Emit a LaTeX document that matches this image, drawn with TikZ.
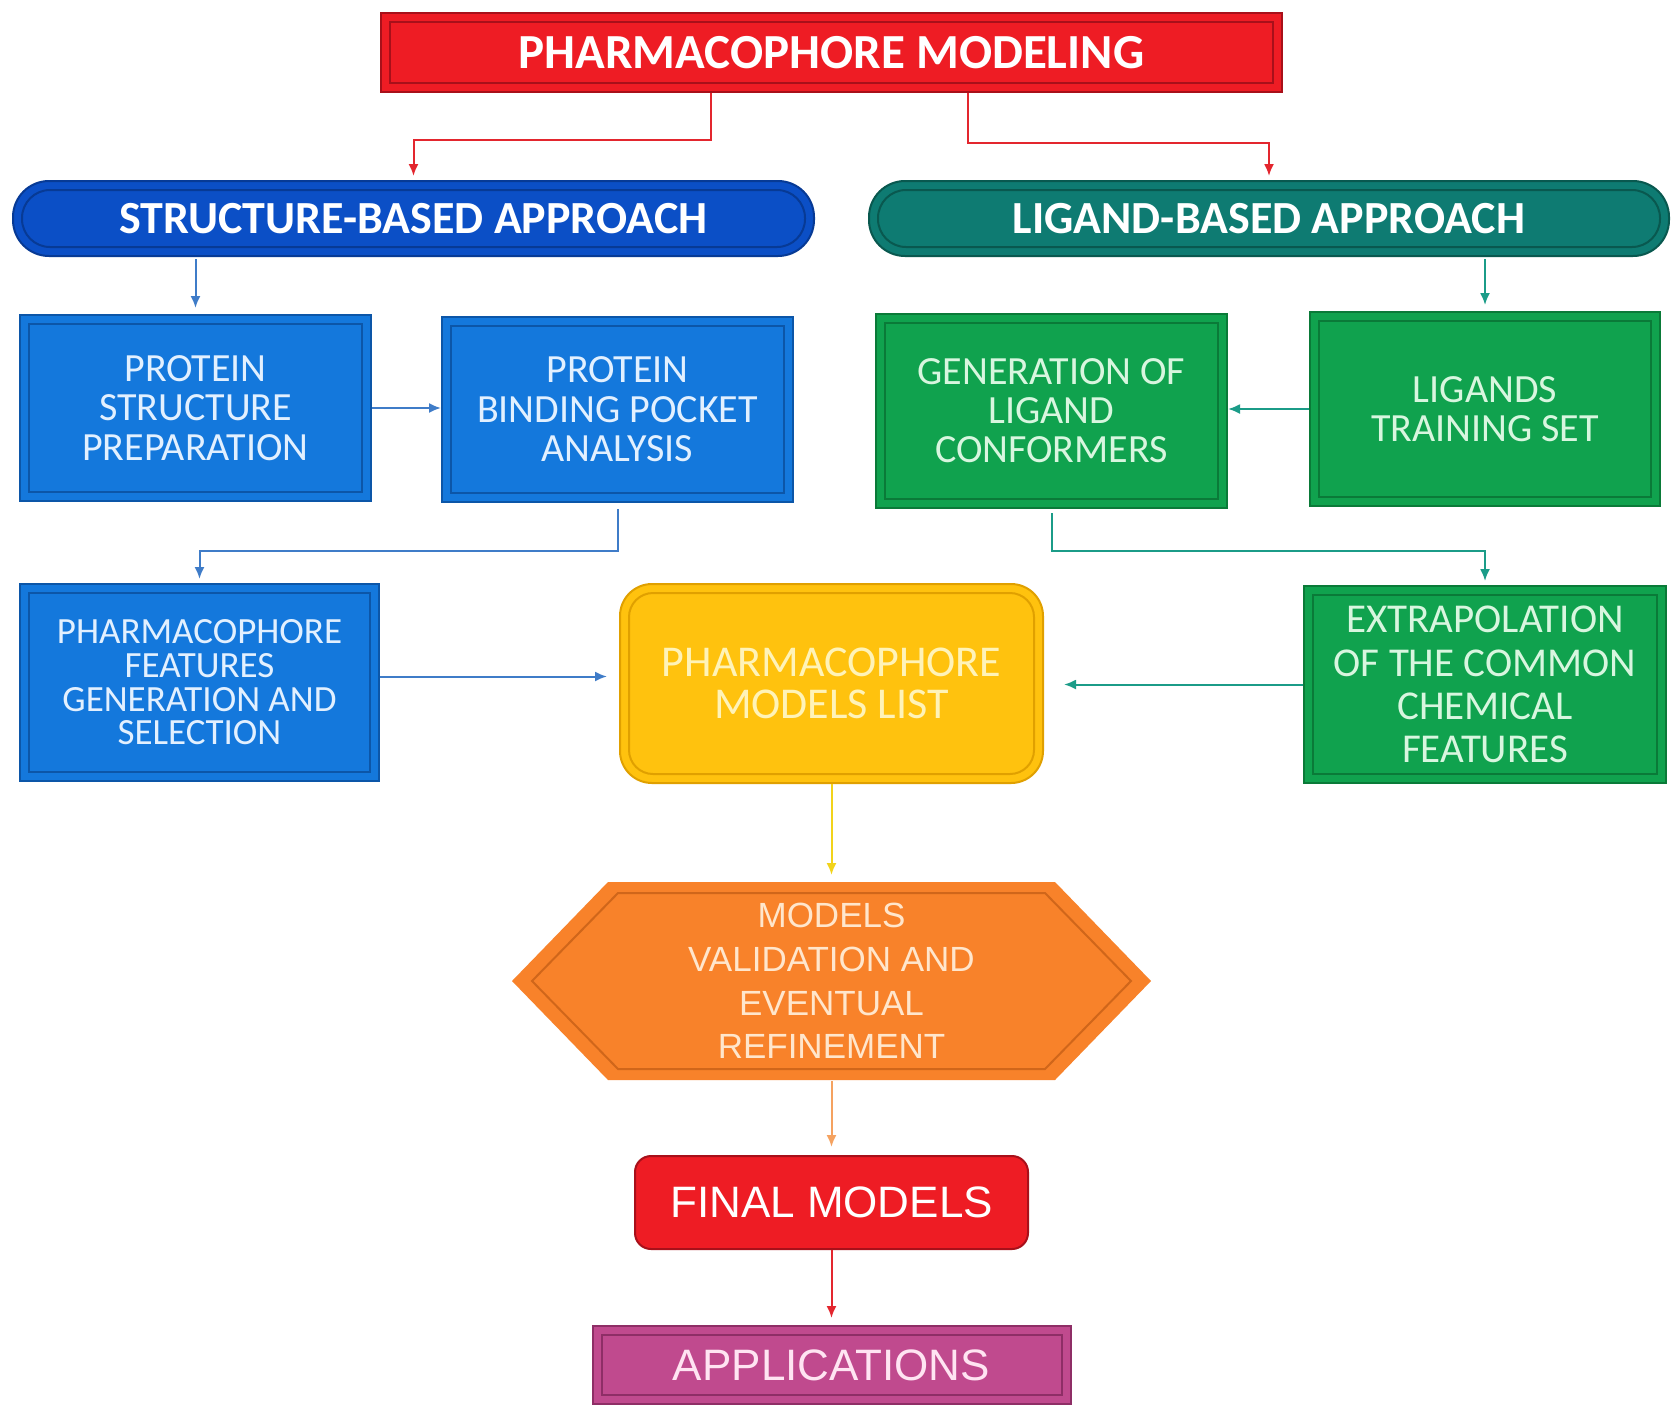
\documentclass[tikz,border=0pt]{standalone}
\usepackage{fontspec}
\setmainfont{Carlito}
\newfontfamily\arialf{Liberation Sans}
\usetikzlibrary{calc,arrows.meta}
\definecolor{redM}{HTML}{EE1C24}
\definecolor{redD}{HTML}{A8101A}
\definecolor{blueP}{HTML}{0B4FC6}
\definecolor{bluePD}{HTML}{073A95}
\definecolor{tealP}{HTML}{0E7B72}
\definecolor{tealPD}{HTML}{09584F}
\definecolor{blueB}{HTML}{1478DC}
\definecolor{blueBD}{HTML}{0C56A8}
\definecolor{greenB}{HTML}{10A24E}
\definecolor{greenBD}{HTML}{0A7A38}
\definecolor{yel}{HTML}{FFC20E}
\definecolor{yelD}{HTML}{E0A000}
\definecolor{orng}{HTML}{F8822A}
\definecolor{orngD}{HTML}{D0661A}
\definecolor{mag}{HTML}{C04A8E}
\definecolor{magD}{HTML}{8E2E66}
\definecolor{arRed}{HTML}{E3262E}
\definecolor{arBlue}{HTML}{3F7CC8}
\definecolor{arTeal}{HTML}{1B9C88}
\definecolor{arYel}{HTML}{F2D31A}
\definecolor{arOr}{HTML}{F5A260}
\definecolor{txtBlue}{HTML}{E2F0FF}
\definecolor{txtGreen}{HTML}{D8F6DF}
\definecolor{txtYel}{HTML}{FFF3B8}
\definecolor{txtOr}{HTML}{FFE6CC}
\definecolor{txtMag}{HTML}{FFE4F2}
\tikzset{
  innerframe/.style 2 args={path picture={\draw[#1,line width=1pt,rounded corners=#2]
     ([shift={(4.5pt,-4.5pt)}]path picture bounding box.north west) rectangle
     ([shift={(-4.5pt,4.5pt)}]path picture bounding box.south east);}},
  boxbase/.style={inner sep=0pt, align=center, line width=1pt},
  topbox/.style={boxbase, fill=redM, draw=redD, text=white, innerframe={redD}{0pt},
     minimum width=450.5pt, minimum height=39.5pt, font=\bfseries\fontsize{24.5}{28}\selectfont},
  pill/.style 2 args={boxbase, fill=#1, draw=#2, text=white, rounded corners=18pt, innerframe={#2}{14pt},
     minimum height=37.5pt, font=\bfseries\fontsize{23}{27}\selectfont},
  bluebox/.style={boxbase, fill=blueB, draw=blueBD, text=txtBlue, innerframe={blueBD}{0pt}},
  greenbox/.style={boxbase, fill=greenB, draw=greenBD, text=txtGreen, innerframe={greenBD}{0pt}},
  conn/.style={line width=1pt, -{Latex[length=6pt,width=5pt]}},
}
\begin{document}
\begin{tikzpicture}[x=0.5pt,y=-0.5pt]
\useasboundingbox (0,0) rectangle (1671,1404);
\fill[white] (0,0) rectangle (1671,1404);

% top
\node[topbox] (top) at (831.5,52.5) {PHARMACOPHORE MODELING};

% pills
\node[pill={blueP}{bluePD}, minimum width=400.5pt] (sba) at (413.5,218.5) {STRUCTURE-BASED APPROACH};
\node[pill={tealP}{tealPD}, minimum width=400pt] (lba) at (1269,218.5) {LIGAND-BASED APPROACH};

% blue boxes
\node[bluebox, minimum width=175.5pt, minimum height=93pt, font=\fontsize{20}{19.7}\selectfont]
  (psp) at (195.5,408) {PROTEIN\\STRUCTURE\\PREPARATION};
\node[bluebox, minimum width=175.5pt, minimum height=92.5pt, font=\fontsize{20}{19.7}\selectfont]
  (pbpa) at (617.5,409.5) {PROTEIN\\BINDING POCKET\\ANALYSIS};
\node[bluebox, minimum width=179.5pt, minimum height=98.5pt, font=\fontsize{18.5}{16.8}\selectfont]
  (pfgs) at (199.5,682.5) {PHARMACOPHORE\\FEATURES\\GENERATION AND\\SELECTION};

% green boxes
\node[greenbox, minimum width=175.5pt, minimum height=97pt, font=\fontsize{20}{19.5}\selectfont]
  (glc) at (1051.5,411) {GENERATION OF\\LIGAND\\CONFORMERS};
\node[greenbox, minimum width=175pt, minimum height=97pt, font=\fontsize{20}{19.5}\selectfont]
  (lts) at (1485,409) {LIGANDS\\TRAINING SET};
\node[greenbox, minimum width=181pt, minimum height=98.5pt, font=\fontsize{20.5}{21.6}\selectfont]
  (ecf) at (1485,684.5) {EXTRAPOLATION\\OF THE COMMON\\CHEMICAL\\FEATURES};

% yellow list
\node[boxbase, fill=yel, draw=yelD, text=txtYel, rounded corners=16pt, innerframe={yelD}{12pt},
  minimum width=211.5pt, minimum height=99.5pt, font=\fontsize{22}{21.3}\selectfont]
  (pml) at (831.5,683.5) {PHARMACOPHORE\\MODELS LIST};

% hexagon
\fill[orng] (512,981) -- (608,882) -- (1055,882) -- (1151,981) -- (1055,1080) -- (608,1080) -- cycle;
\draw[orngD, line width=1pt] (532,981) -- (618,893) -- (1045,893) -- (1131,981) -- (1045,1069) -- (618,1069) -- cycle;
\node[boxbase, text=txtOr, minimum width=319.5pt, minimum height=99pt, font=\arialf\fontsize{17.5}{21.8}\selectfont]
  (hex) at (831.5,981) {MODELS\\VALIDATION AND\\EVENTUAL\\REFINEMENT};

% final
\node[boxbase, fill=redM, draw=redD, text=white, rounded corners=8pt,
  minimum width=196.5pt, minimum height=46.5pt, font=\arialf\fontsize{22}{26}\selectfont]
  (final) at (831.5,1202.5) {FINAL MODELS};

% applications
\node[boxbase, fill=mag, draw=magD, text=txtMag, innerframe={magD}{0pt},
  minimum width=239pt, minimum height=39pt, font=\arialf\fontsize{22}{26}\selectfont]
  (apps) at (831.5,1365) {APPLICATIONS};

% connectors
\draw[conn, arRed, shorten >=2pt] ($(top.south)+(-120.5,0)$) -- ++(0,47) -| (sba.north);
\draw[conn, arRed, shorten >=2pt] ($(top.south)+(136.5,0)$) -- ++(0,50) -| (lba.north);
\draw[conn, arBlue, shorten <=1pt, shorten >=3pt] (psp.north |- sba.south) -- (psp.north);
\draw[conn, arTeal, shorten <=1pt, shorten >=3pt] (lts.north |- lba.south) -- (lts.north);
\draw[conn, arBlue] (psp.east) -- (psp.east -| pbpa.west);
\draw[conn, arTeal] (lts.west) -- (lts.west -| glc.east);
\draw[conn, arBlue, shorten <=3pt, shorten >=2pt] (pbpa.south) -- ++(0,48) -| (pfgs.north);
\draw[conn, arTeal, shorten <=2pt, shorten >=2pt] (glc.south) -- ++(0,42) -| (ecf.north);
\draw[conn, arBlue, shorten >=6pt] ([yshift=3pt]pfgs.east) -- ([yshift=3pt]pfgs.east -| pml.west);
\draw[conn, arTeal, shorten >=10pt] (ecf.west) -- (ecf.west -| pml.east);
\draw[conn, arYel, shorten >=3pt] (pml.south) -- (hex.north);
\draw[conn, arOr, shorten >=4pt] (hex.south) -- (final.north);
\draw[conn, arRed, shorten >=3.5pt] (final.south) -- (apps.north);
\end{tikzpicture}
\end{document}
